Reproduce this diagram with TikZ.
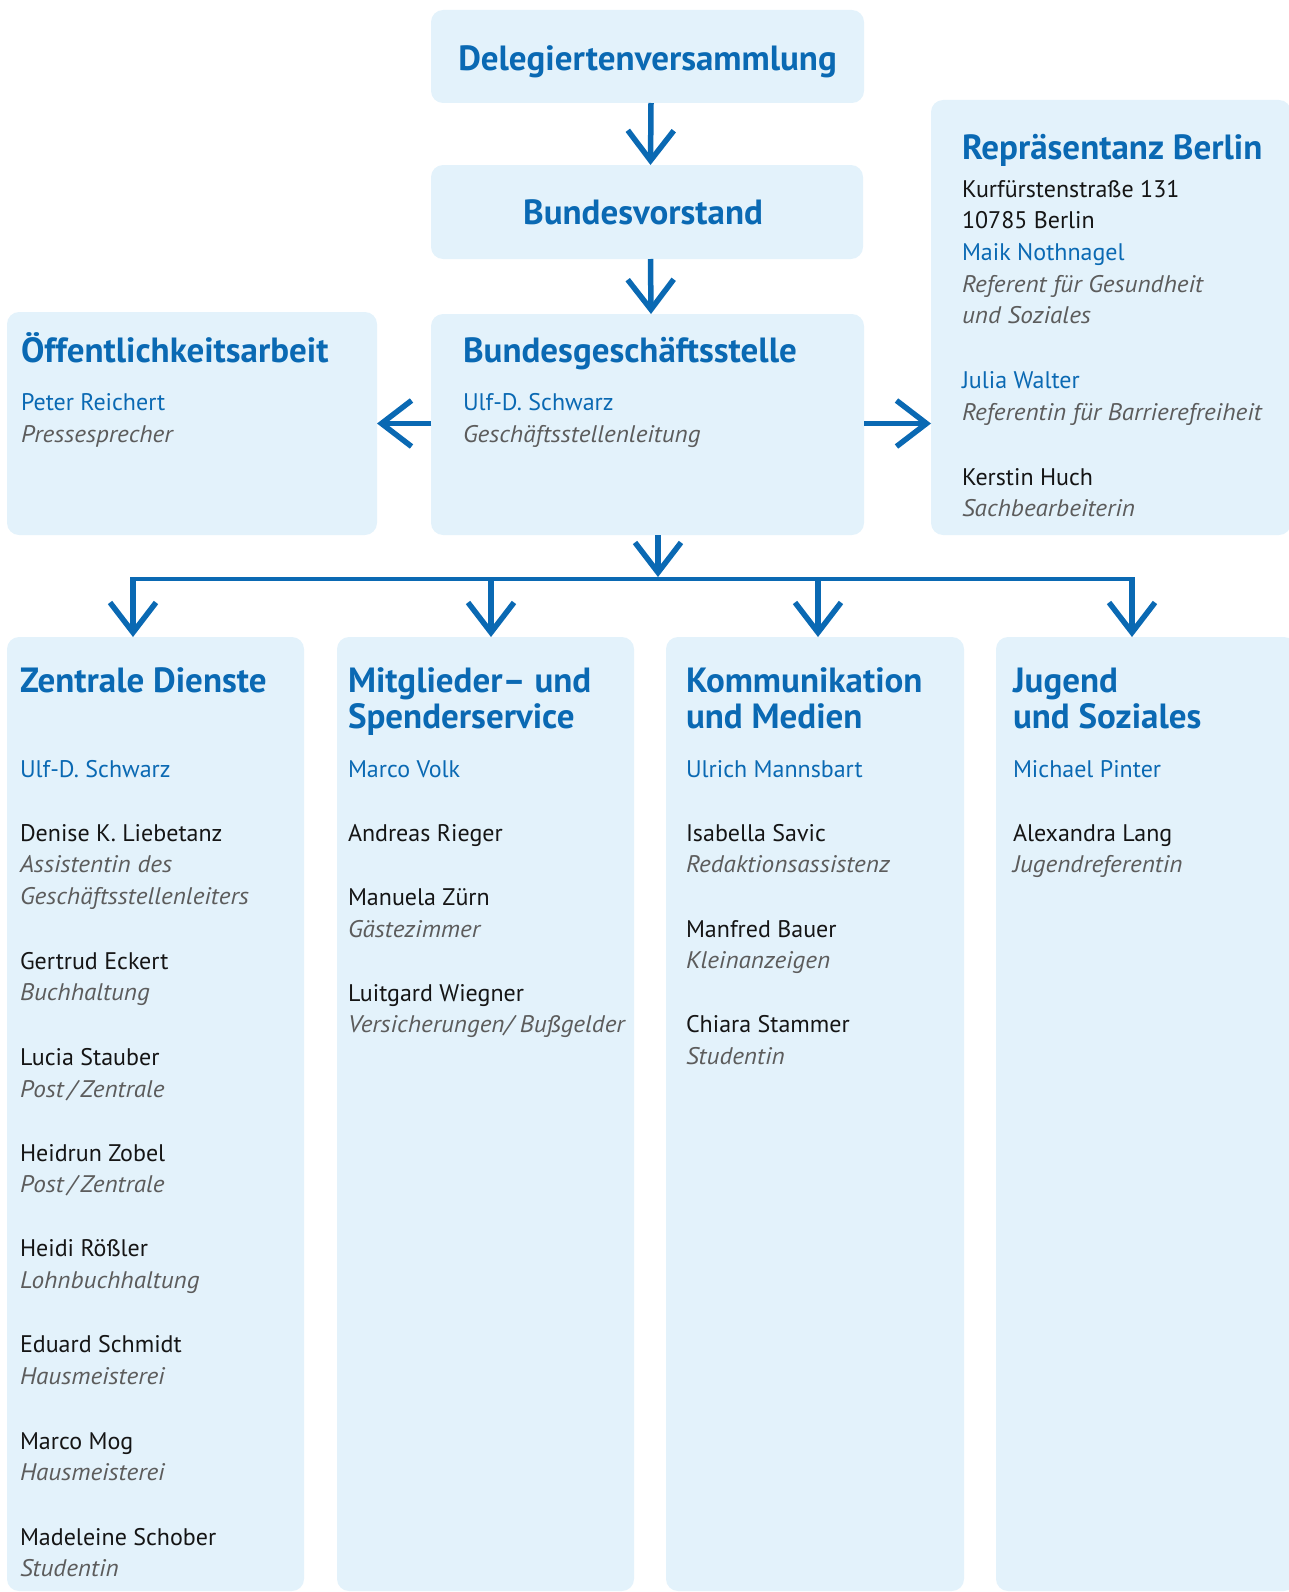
\documentclass[tikz,border=0pt]{standalone}
\usepackage{fontspec}
\setmainfont{PT Sans}
\usetikzlibrary{arrows.meta,calc}
\definecolor{boxc}{HTML}{E3F2FB}
\definecolor{dblue}{HTML}{0A69B3}
\definecolor{rolec}{HTML}{5C5C5C}
\definecolor{namec}{HTML}{151515}
\newcommand\tl[5]{\node[#4] (#1) at (#2,#3) {#5};}
\begin{document}
\begin{tikzpicture}[x=1pt,y=-1pt,
  box/.style={fill=boxc,draw=none,rounded corners=12pt,outer sep=0pt,inner sep=0pt,anchor=north west},
  txt/.style={anchor=base west,inner sep=0pt,outer sep=0pt},
  ttl/.style={txt,font=\fontsize{35}{36}\selectfont\bfseries,text=dblue},
  lead/.style={txt,font=\fontsize{24}{32}\selectfont,text=dblue},
  pname/.style={txt,font=\fontsize{24}{32}\selectfont,text=namec},
  role/.style={txt,font=\fontsize{24}{32}\selectfont\itshape\addfontfeature{FakeStretch=1.05},text=rolec},
  arr/.style={draw=dblue,line width=5.5pt,-{Straight Barb[length=30pt,width=46pt]}},
  hline/.style={draw=dblue,line width=4pt}]
\useasboundingbox (0,0) rectangle (1288,1592);
% boxes
\node[box,minimum width=433pt,minimum height=93pt] (dele) at (431,10) {};
\node[box,minimum width=432pt,minimum height=94pt] (bv) at (431,165) {};
\node[box,minimum width=433pt,minimum height=221pt] (bgs) at (431,314) {};
\node[box,minimum width=370pt,minimum height=223pt] (oeff) at (7,312) {};
\node[box,minimum width=360pt,minimum height=435pt] (rep) at (931,100) {};
\node[box,minimum width=297pt,minimum height=954pt] (zd) at (7,637) {};
\node[box,minimum width=297pt,minimum height=954pt] (mit) at (337,637) {};
\node[box,minimum width=298pt,minimum height=954pt] (kom) at (666,637) {};
\node[box,minimum width=300pt,minimum height=954pt] (jug) at (996,637) {};
% top texts
\node[ttl,anchor=base] (tdele) at (647.5,70.7) {Delegiertenversammlung};
\node[ttl,anchor=base] (tbv) at (643,224) {Bundesvorstand};
\tl{tbgs}{463}{362}{ttl}{Bundesgeschäftsstelle}
\tl{tbgs1}{463}{410}{lead}{Ulf-D. Schwarz}
\tl{tbgs2}{463}{442}{role}{Geschäftsstellenleitung}
\tl{toe}{21}{362}{ttl}{Öffentlichkeitsarbeit}
\tl{toe1}{21}{410}{lead}{Peter Reichert}
\tl{toe2}{21}{442}{role}{Pressesprecher}
\tl{trep}{962}{159}{ttl}{Repräsentanz Berlin}
\tl{trep1}{962}{197}{pname}{Kurfürstenstraße 131}
\tl{trep2}{962}{228}{pname}{10785 Berlin}
\tl{trep3}{962}{260}{lead}{Maik Nothnagel}
\tl{trep4}{962}{292}{role}{Referent für Gesundheit}
\tl{trep5}{962}{323}{role}{und Soziales}
\tl{trep6}{962}{388}{lead}{Julia Walter}
\tl{trep7}{962}{420}{role}{Referentin für Barrierefreiheit}
\tl{trep8}{962}{485}{pname}{Kerstin Huch}
\tl{trep9}{962}{516}{role}{Sachbearbeiterin}
% Zentrale Dienste
\tl{tzd}{20}{692}{ttl}{Zentrale Dienste}
\tl{tzd0}{20}{777}{lead}{Ulf-D. Schwarz}
\tl{tzd1}{20}{841}{pname}{Denise K. Liebetanz}
\tl{tzd2}{20}{872}{role}{Assistentin des}
\tl{tzd3}{20}{904}{role}{Geschäftsstellenleiters}
\tl{tzd4}{20}{969}{pname}{Gertrud Eckert}
\tl{tzd5}{20}{1000}{role}{Buchhaltung}
\tl{tzd6}{20}{1065}{pname}{Lucia Stauber}
\tl{tzd7}{20}{1097}{role}{Post\,/\,Zentrale}
\tl{tzd8}{20}{1161}{pname}{Heidrun Zobel}
\tl{tzd9}{20}{1192}{role}{Post\,/\,Zentrale}
\tl{tzd10}{20}{1256}{pname}{Heidi Rößler}
\tl{tzd11}{20}{1288}{role}{Lohnbuchhaltung}
\tl{tzd12}{20}{1352}{pname}{Eduard Schmidt}
\tl{tzd13}{20}{1384}{role}{Hausmeisterei}
\tl{tzd14}{20}{1449}{pname}{Marco Mog}
\tl{tzd15}{20}{1480}{role}{Hausmeisterei}
\tl{tzd16}{20}{1545}{pname}{Madeleine Schober}
\tl{tzd17}{20}{1576}{role}{Studentin}
% Mitglieder
\tl{tmi}{348}{692}{ttl}{Mitglieder– und}
\tl{tmi0}{348}{728}{ttl}{Spenderservice}
\tl{tmi1}{348}{777}{lead}{Marco Volk}
\tl{tmi2}{348}{841}{pname}{Andreas Rieger}
\tl{tmi3}{348}{905}{pname}{Manuela Zürn}
\tl{tmi4}{348}{937}{role}{Gästezimmer}
\tl{tmi5}{348}{1001}{pname}{Luitgard Wiegner}
\tl{tmi6}{348}{1032}{role}{Versicherungen/ Bußgelder}
% Kommunikation
\tl{tko}{686}{692}{ttl}{Kommunikation}
\tl{tko0}{686}{728}{ttl}{und Medien}
\tl{tko1}{686}{777}{lead}{Ulrich Mannsbart}
\tl{tko2}{686}{841}{pname}{Isabella Savic}
\tl{tko3}{686}{872}{role}{Redaktionsassistenz}
\tl{tko4}{686}{937}{pname}{Manfred Bauer}
\tl{tko5}{686}{968}{role}{Kleinanzeigen}
\tl{tko6}{686}{1032}{pname}{Chiara Stammer}
\tl{tko7}{686}{1064}{role}{Studentin}
% Jugend
\tl{tju}{1013}{692}{ttl}{Jugend}
\tl{tju0}{1013}{728}{ttl}{und Soziales}
\tl{tju1}{1013}{777}{lead}{Michael Pinter}
\tl{tju2}{1013}{841}{pname}{Alexandra Lang}
\tl{tju3}{1013}{872}{role}{Jugendreferentin}
% connectors
\coordinate (hub) at (658,579);
\coordinate (b1) at (133,579);
\coordinate (b2) at (491,579);
\coordinate (b3) at (818,579);
\coordinate (b4) at (1132,579);
\draw[arr] ($(dele.south)+(3.5,0)$) -- ($(bv.north)+(3.5,0)$);
\draw[arr] ($(bv.south)+(3.5,0)$) -- ($(bgs.north)+(3.5,0)$);
\draw[arr] ($(bgs.west)+(0,-1)$) -- ($(bgs.west -| oeff.east)+(0,-1)$);
\draw[arr] ($(bgs.east)+(0,-1)$) -- ($(bgs.east -| rep.west)+(0,-1)$);
\draw[arr] (bgs.south -| hub) -- ($(hub)+(0,-2)$);
\draw[hline] ($(b1)+(-2,0)$) -- ($(b4)+(2,0)$);
\draw[arr] ($(b1)+(0,-2)$) -- (b1 |- zd.north);
\draw[arr] ($(b2)+(0,-2)$) -- (b2 |- mit.north);
\draw[arr] ($(b3)+(0,-2)$) -- (b3 |- kom.north);
\draw[arr] ($(b4)+(0,-2)$) -- (b4 |- jug.north);
\end{tikzpicture}
\end{document}
